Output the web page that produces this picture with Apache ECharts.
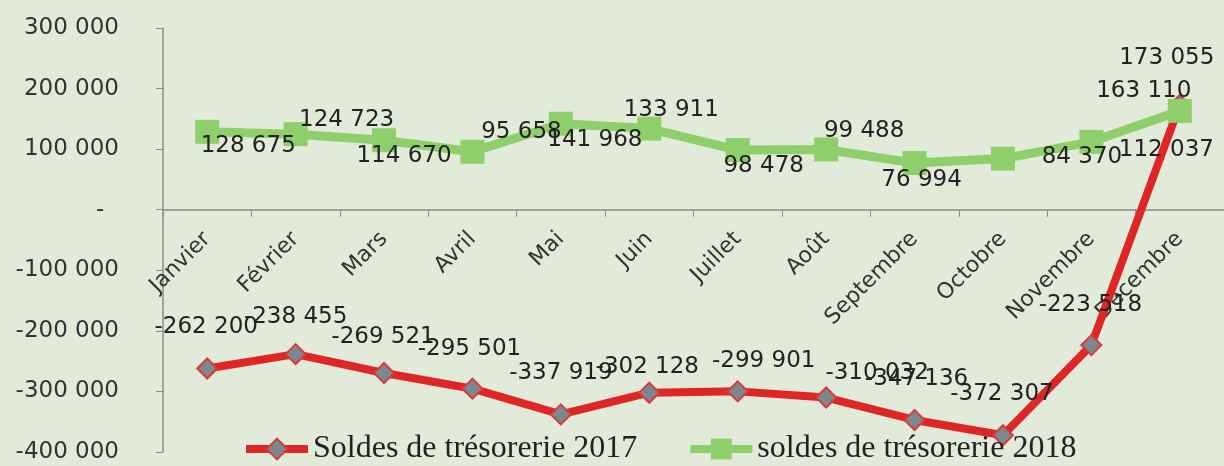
<!DOCTYPE html>
<html>
<head>
<meta charset="utf-8">
<script src="https://cdn.jsdelivr.net/npm/echarts@6/dist/echarts.min.js"></script>
<style>
html,body{margin:0;padding:0;background:#e2ebd9;}
#c{width:1224px;height:466px;}
</style>
</head>
<body>
<div id="c"></div>
<script>
var months = ['Janvier','Février','Mars','Avril','Mai','Juin','Juillet','Août','Septembre','Octobre','Novembre','Décembre'];
var soldes2017 = [-262200,-238455,-269521,-295501,-337919,-302128,-299901,-310032,-347136,-372307,-223518,173055];
var soldes2018 = [128675,124723,114670,95658,141968,133911,98478,99488,76994,84370,112037,163110];
var seriesNames = ['Soldes de trésorerie 2017','soldes de trésorerie 2018'];
var yMin = -400000, yMax = 300000, yStep = 100000;

// label placement (style only)
var off2017 = [[-1,-42],[0,-37],[-1,-36],[-3,-40],[0,-41],[-2,-26],[26,-30],[51,-24],[2,-41],[-1,-41],[-1,-40],[-13,-47]];
var off2018 = [[41,14],[51,-14],[20,16],[49,-20],[34,16],[22,-19],[26,16],[38,-18],[7,17],[79,-2],[75,8],[-36,-20]];

function fmt(v){
  if (v === 0) return '-  ';
  var s = Math.abs(v).toString().replace(/\B(?=(\d{3})+(?!\d))/g,' ');
  return (v < 0 ? '-' : '') + s;
}
function build(vals, offs){
  return vals.map(function(v,i){
    return {value:v, label:{offset:offs[i]}};
  });
}
var GRID_TOP = 28, GRID_BOTTOM = 14, H = 466;
var plotH = H - GRID_TOP - GRID_BOTTOM;
var zeroFromBottom = plotH * (0 - yMin) / (yMax - yMin);

var FONT = 'DejaVu Sans';
var chart = echarts.init(document.getElementById('c'));
chart.setOption({
  backgroundColor:'#e2ebd9',
  animation:false,
  grid:{left:163,right:0,top:GRID_TOP,bottom:GRID_BOTTOM,containLabel:false,outerBoundsMode:'none'},
  legend:{
    data:seriesNames,
    top:428,left:237,
    itemWidth:62,itemHeight:26,itemGap:49,
    lineStyle:{width:8},
    textStyle:{fontFamily:'Liberation Serif',fontSize:32,color:'#222'}
  },
  xAxis:{
    type:'category',data:months,boundaryGap:true,
    offset:-zeroFromBottom,
    axisLine:{onZero:false,lineStyle:{color:'#8c8c8c',width:1.5}},
    axisTick:{show:true,length:7,lineStyle:{color:'#8c8c8c'}},
    axisLabel:{rotate:45,margin:26,fontFamily:FONT,fontSize:22,color:'#333',interval:0}
  },
  yAxis:{
    type:'value',min:yMin,max:yMax,interval:yStep,
    axisLine:{show:true,lineStyle:{color:'#8c8c8c',width:1.5}},
    axisTick:{show:true,length:7,lineStyle:{color:'#8c8c8c'}},
    splitLine:{show:false},
    axisLabel:{margin:44,fontFamily:FONT,fontSize:23,color:'#333',formatter:fmt}
  },
  series:[
    {
      name:seriesNames[0],type:'line',data:build(soldes2017,off2017),
      symbol:'diamond',symbolSize:20,
      lineStyle:{color:'#df2626',width:8},
      itemStyle:{color:'#7c8890',borderColor:'#d93a3a',borderWidth:2},
      label:{show:true,position:'inside',fontFamily:FONT,fontSize:23,color:'#222',formatter:function(p){return fmt(p.value);}},
      z:2
    },
    {
      name:seriesNames[1],type:'line',data:build(soldes2018,off2018),
      symbol:'rect',symbolSize:[24,24],
      lineStyle:{color:'#8fcf6b',width:9},
      itemStyle:{color:'#8fcf6b',borderWidth:0},
      label:{show:true,position:'inside',fontFamily:FONT,fontSize:23,color:'#222',formatter:function(p){return fmt(p.value);}},
      z:3
    }
  ]
});
</script>
</body>
</html>
